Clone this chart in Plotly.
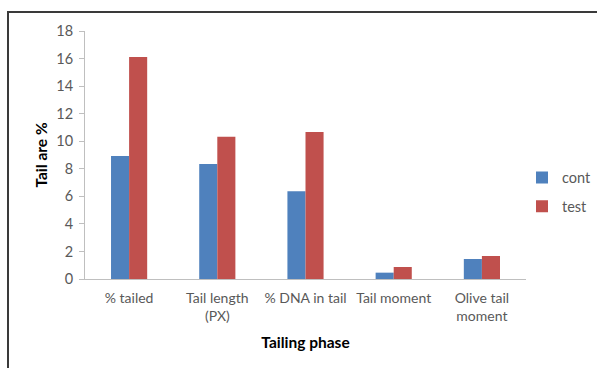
import plotly.graph_objects as go

categories = ["% tailed", "Tail length<br>(PX)", "% DNA in tail", "Tail moment", "Olive tail<br>moment"]
cont = [8.93, 8.35, 6.36, 0.46, 1.45]
test = [16.11, 10.33, 10.67, 0.87, 1.67]
y_ticks = [0, 2, 4, 6, 8, 10, 12, 14, 16, 18]

W, H = 597, 368
L, R, T, B = 85, 71, 31, 89
pw, ph = W - L - R, H - T - B

font_family = "Lato, 'Open Sans', sans-serif"

fig = go.Figure()
fig.add_trace(go.Bar(name="cont", x=categories, y=cont, marker_color="#4F81BD",
                     marker_line_width=0, legendgroup="a"))
fig.add_trace(go.Bar(name="test", x=categories, y=test, marker_color="#C0504D",
                     marker_line_width=0, legendgroup="b"))

# outer frame around the chart (extends past right and bottom edges)
fig.add_shape(type="rect", xref="paper", yref="paper",
              x0=(8 - L) / pw, x1=(W + 10 - L) / pw,
              y0=(H - B - (H + 10)) / ph, y1=(H - B - 12) / ph,
              line=dict(color="#3a3a3a", width=2), fillcolor="rgba(0,0,0,0)", layer="below")

fig.update_layout(
    width=W, height=H,
    margin=dict(l=L, r=R, t=T, b=B, pad=0, autoexpand=False),
    paper_bgcolor="white", plot_bgcolor="white",
    barmode="group", bargap=0.59, bargroupgap=0,
    font=dict(family=font_family, size=14, color="#595959"),
    showlegend=True,
    legend=dict(xref="container", yref="container", x=522 / W, y=1 - 192 / H,
                xanchor="left", yanchor="middle",
                font=dict(size=14.5, color="#595959"), tracegroupgap=7,
                itemwidth=30, bgcolor="rgba(0,0,0,0)"),
    xaxis=dict(showline=True, linecolor="#BFBFBF", linewidth=1, ticks="",
               showgrid=False, tickfont=dict(size=14, color="#595959"),
               ticklabelstandoff=6, automargin=False,
               title=dict(text="<b>Tailing phase</b>", font=dict(size=15.5, color="#000000"),
                          standoff=14)),
    yaxis=dict(range=[0, 18], tickvals=y_ticks, showline=True, linecolor="#BFBFBF",
               linewidth=1, ticks="outside", ticklen=5, tickcolor="#BFBFBF",
               showgrid=False, zeroline=False, tickfont=dict(size=14.5, color="#595959"),
               ticklabelstandoff=3, automargin=False,
               title=dict(text="<b>Tail are %</b>", font=dict(size=15.5, color="#000000"),
                          standoff=4)),
)

fig.write_html("out.html")
